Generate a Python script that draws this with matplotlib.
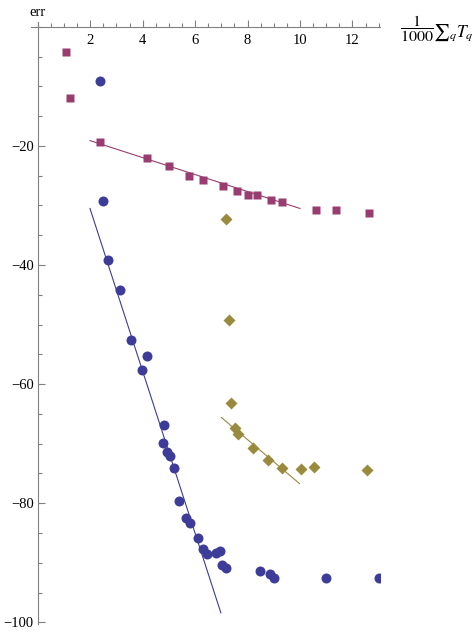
import matplotlib
matplotlib.use("Agg")
import matplotlib.pyplot as plt
from matplotlib.ticker import MultipleLocator

plt.rcParams.update({
    "font.family": "Liberation Serif",
    "mathtext.fontset": "stix",
    "font.size": 10.5,
})

BLUE = "#3d3d99"
MAGENTA = "#993d70"
OLIVE = "#998a3d"
AXIS = "#808080"

# blue circles
circ_x = [2.39, 2.49, 2.69, 3.14, 3.56, 4.17, 3.98, 4.80, 4.79, 4.94, 5.06, 5.19,
          5.37, 5.66, 5.81, 6.11, 6.31, 6.47, 6.80, 6.95, 7.02, 7.17, 8.48, 8.85,
          9.02, 10.99, 13.0]
circ_y = [-9.1, -29.2, -39.2, -44.2, -52.6, -55.2, -57.6, -66.9, -69.9, -71.4, -72.0, -74.1,
          -79.6, -82.4, -83.4, -85.9, -87.7, -88.5, -88.4, -88.0, -90.4, -90.9, -91.4, -91.9,
          -92.5, -92.6, -92.6]
circ_fit_x = [1.99, 6.98]
circ_fit_y = [-30.5, -98.4]

# magenta squares
sq_x = [1.09, 1.24, 2.36, 4.18, 5.02, 5.78, 6.31, 7.07, 7.60, 8.02, 8.37, 8.90, 9.32,
        10.62, 11.37, 12.64]
sq_y = [-4.2, -11.9, -19.4, -22.1, -23.3, -25.1, -25.8, -26.8, -27.6, -28.2, -28.2, -29.1,
        -29.4, -30.8, -30.8, -31.3]
sq_fit_x = [1.99, 10.0]
sq_fit_y = [-19.1, -30.5]

# olive diamonds
dia_x = [7.18, 7.30, 7.38, 7.52, 7.65, 8.22, 8.79, 9.33, 10.05, 10.52, 12.55]
dia_y = [-32.3, -49.3, -63.2, -67.3, -68.4, -70.7, -72.8, -74.1, -74.3, -73.9, -74.5]
dia_fit_x = [7.0, 9.98]
dia_fit_y = [-65.6, -76.7]

fig = plt.figure(figsize=(4.73, 6.32), dpi=100)
ax = fig.add_axes([31 / 473, 1 - 623.5 / 632, 349 / 473, 601.4 / 632])

ax.plot(sq_fit_x, sq_fit_y, color=MAGENTA, lw=0.8, zorder=2)
ax.plot(circ_fit_x, circ_fit_y, color=BLUE, lw=0.8, zorder=2)
ax.plot(dia_fit_x, dia_fit_y, color=OLIVE, lw=0.8, zorder=2)

ax.plot(sq_x, sq_y, "s", color=MAGENTA, ms=6.2, mec="none", zorder=3)
ax.plot(circ_x, circ_y, "o", color=BLUE, ms=7.2, mec="none", zorder=3)
ax.plot(dia_x, dia_y, "D", color=OLIVE, ms=5.8, mec="none", zorder=3)

ax.set_xlim(-0.26, 13.05)
ax.set_ylim(-100.2, 0.8)

for s in ["top", "right"]:
    ax.spines[s].set_visible(False)
ax.spines["bottom"].set_position(("data", 0))
ax.spines["left"].set_position(("data", 0))
for s in ["bottom", "left"]:
    ax.spines[s].set_color(AXIS)
    ax.spines[s].set_linewidth(0.8)

ax.set_xticks([2, 4, 6, 8, 10, 12])
ax.set_yticks([-20, -40, -60, -80, -100])
ax.xaxis.set_minor_locator(MultipleLocator(0.5))
ax.yaxis.set_minor_locator(MultipleLocator(5))
ax.tick_params(which="both", direction="in", color=AXIS, width=0.8)
ax.tick_params(which="major", length=5)
ax.tick_params(which="minor", length=3)
ax.tick_params(axis="x", pad=5)
ax.tick_params(axis="y", pad=3)
ax.patch.set_visible(False)

# axis labels
fig.text(38 / 473, 1 - 13 / 632, "err", ha="center", va="center", fontsize=10.5)
fig.text(400 / 473, 1 - 29 / 632, r"$\dfrac{1}{1000}$",
         ha="left", va="center", fontsize=11.5)
fig.text(433 / 473, 1 - 33 / 632, r"${\sum}_q T_q$", ha="left", va="center", fontsize=12.5)

fig.savefig("out.png", dpi=100)
